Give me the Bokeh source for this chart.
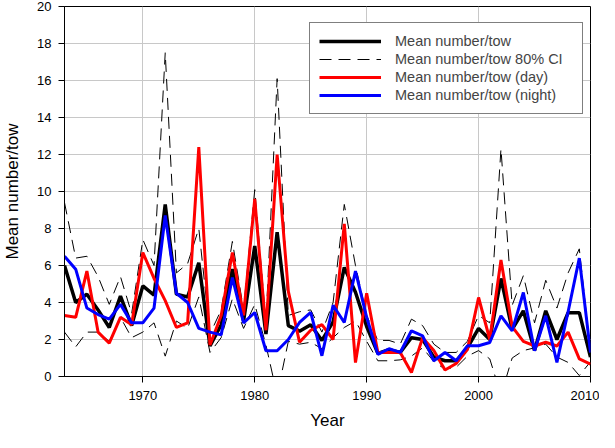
from bokeh.plotting import figure
from bokeh.models import (ColumnDataSource, Range1d, FixedTicker, Legend, LegendItem)
from bokeh.embed import file_html
from bokeh.resources import INLINE

years = list(range(1963, 2011))

mean_tow = [6.0, 4.0, 4.45, 3.6, 2.65, 4.35, 2.75, 4.9, 4.4, 9.3,
            4.45, 4.3, 6.15, 1.65, 2.8, 5.8, 3.0, 7.05, 2.3, 7.8,
            2.75, 2.45, 2.8, 1.95, 2.95, 5.9, 4.55, 2.7, 1.25, 1.45,
            1.3, 2.1, 2.0, 1.05, 0.85, 0.85, 1.55, 2.6, 2.0, 5.3,
            2.55, 3.55, 1.4, 3.55, 2.0, 3.45, 3.45, 1.05]

ci_upper = [9.4, 6.4, 6.5, 5.4, 3.9, 5.4, 3.4, 7.4, 6.0, 17.5,
            5.6, 6.1, 8.0, 2.3, 3.6, 7.3, 3.6, 10.1, 2.9, 16.1,
            3.3, 3.5, 3.6, 2.4, 4.0, 9.3, 6.0, 3.3, 1.95, 1.95,
            1.75, 3.1, 2.75, 1.75, 1.3, 1.3, 1.9, 3.3, 2.9, 12.3,
            3.85, 5.45, 2.9, 5.2, 3.7, 5.6, 6.9, 1.3]

ci_lower = [2.4, 1.6, 2.4, 2.4, 1.9, 3.2, 2.1, 2.4, 2.9, 1.1,
            3.0, 2.6, 4.3, 1.3, 2.1, 4.2, 2.6, 3.9, 1.7, -1.0,
            1.9, 1.75, 1.85, 1.5, 2.1, 2.65, 3.0, 1.9, 0.85, 0.85,
            0.9, 1.1, 1.55, 0.8, 0.4, 0.5, 1.1, 1.4, 0.95, -1.0,
            1.0, 1.4, 1.55, 1.75, 1.05, 0.76, 0.05, 0.8]

mean_day = [3.3, 3.2, 5.7, 2.4, 1.8, 3.2, 2.8, 6.7, 5.3, 4.1,
            2.65, 2.9, 12.4, 1.7, 3.3, 6.7, 3.3, 9.6, 2.5, 12.0,
            4.6, 1.85, 2.5, 2.8, 2.0, 8.25, 0.75, 4.5, 1.3, 1.3,
            1.3, 0.22, 2.1, 1.4, 0.35, 0.7, 1.45, 4.27, 2.0, 6.3,
            2.7, 1.9, 1.65, 1.85, 1.65, 2.4, 0.95, 0.67]

mean_night = [6.5, 5.8, 3.7, 3.35, 3.1, 3.9, 2.9, 2.9, 3.7, 8.7,
              4.5, 4.0, 2.6, 2.4, 2.25, 5.35, 2.9, 3.46, 1.39, 1.39,
              2.0, 2.92, 3.46, 1.12, 3.85, 2.92, 5.7, 3.2, 1.2, 1.5,
              1.3, 2.47, 2.2, 0.85, 1.3, 0.85, 1.66, 1.66, 1.84, 3.28,
              2.47, 4.54, 1.39, 3.28, 0.76, 3.5, 6.4, 1.3]

x_ticks = [1970, 1980, 1990, 2000, 2010]
y_ticks = list(range(0, 21, 2))

labels = ["Mean number/tow", "Mean number/tow 80% CI",
          "Mean number/tow (day)", "Mean number/tow (night)"]

src = ColumnDataSource(dict(year=years, mean=mean_tow, up=ci_upper, lo=ci_lower,
                            day=mean_day, night=mean_night))

FONT = "Liberation Sans"

p = figure(width=599, height=432, x_range=Range1d(1963, 2010), y_range=Range1d(0, 20),
           output_backend="svg", toolbar_location=None,
           min_border_left=60, min_border_right=9, min_border_top=6, min_border_bottom=56)

p.background_fill_color = "white"
p.border_fill_color = "white"
p.outline_line_color = "black"
p.outline_line_alpha = 1.0

for ax in (p.xaxis[0], p.yaxis[0]):
    ax.axis_line_color = "black"
    ax.major_tick_line_color = "black"
    ax.major_tick_out = 6
    ax.major_tick_in = 0
    ax.minor_tick_out = 0
    ax.minor_tick_in = 0
    ax.major_label_text_font = FONT
    ax.major_label_text_font_size = "13px"
    ax.major_label_text_color = "black"
    ax.axis_label_text_font = FONT
    ax.axis_label_text_font_size = "17px"
    ax.axis_label_text_font_style = "normal"
    ax.axis_label_text_color = "black"

p.xaxis.ticker = FixedTicker(ticks=x_ticks)
p.yaxis.ticker = FixedTicker(ticks=y_ticks)
p.xaxis.axis_label = "Year"
p.yaxis.axis_label = "Mean number/tow"
p.xaxis.major_label_standoff = 8
p.xaxis.axis_label_standoff = 8
p.yaxis.major_label_standoff = 7
p.yaxis.axis_label_standoff = 12

p.xgrid.ticker = FixedTicker(ticks=x_ticks)
p.ygrid.ticker = FixedTicker(ticks=y_ticks)
p.xgrid.grid_line_color = "#c8c8c8"
p.ygrid.grid_line_color = "#c8c8c8"

r_mean = p.line("year", "mean", source=src, line_color="black", line_width=3.5)
r_up = p.line("year", "up", source=src, line_color="black", line_width=1, line_dash="12 7")
r_lo = p.line("year", "lo", source=src, line_color="black", line_width=1, line_dash="12 7")
r_day = p.line("year", "day", source=src, line_color="#ff0000", line_width=3)
r_night = p.line("year", "night", source=src, line_color="#0000ff", line_width=3)

legend = Legend(items=[LegendItem(label=labels[0], renderers=[r_mean]),
                       LegendItem(label=labels[1], renderers=[r_up]),
                       LegendItem(label=labels[2], renderers=[r_day]),
                       LegendItem(label=labels[3], renderers=[r_night])],
                location=(245, 262), margin=0, padding=9, spacing=0,
                glyph_width=62, glyph_height=18, label_height=18, label_standoff=14,
                label_width=178,
                label_text_font=FONT, label_text_font_size="14.5px",
                border_line_color="black", border_line_width=1,
                background_fill_color="white", background_fill_alpha=1.0)
p.add_layout(legend)

open("out.html", "w").write(file_html(p, INLINE))
